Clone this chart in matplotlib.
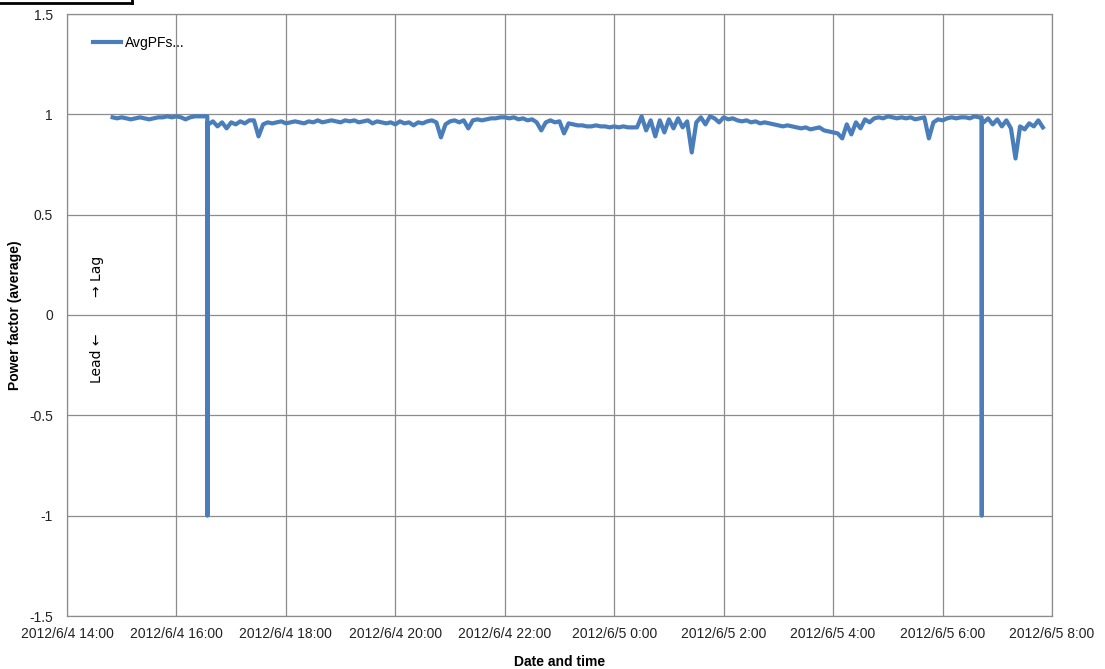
import matplotlib
matplotlib.use("Agg")
import matplotlib.pyplot as plt
import matplotlib.dates as mdates
from matplotlib.lines import Line2D
import pandas as pd

plt.rcParams['font.family'] = ['Liberation Sans', 'DejaVu Sans']

# ---- data: 5-minute average power factor, starting 2012-06-04 14:50 ----
series_start = "2012-06-04 14:50"
step_minutes = 5
pf_values = [
    0.985, 0.98, 0.985, 0.98, 0.975, 0.98, 0.985, 0.98, 0.975, 0.98, 0.985, 0.985,   # 14:50-15:45
    0.99, 0.985, 0.99, 0.985, 0.975, 0.985, 0.99, 0.99, 0.99, 0.95, 0.965, 0.94,     # 15:50-16:45
    0.96, 0.93, 0.96, 0.95, 0.965, 0.955, 0.97, 0.97, 0.89, 0.95, 0.96, 0.955,       # 16:50-17:45
    0.96, 0.965, 0.955, 0.96, 0.965, 0.96, 0.955, 0.965, 0.96, 0.97, 0.96, 0.965,    # 17:50-18:45
    0.97, 0.965, 0.96, 0.97, 0.965, 0.97, 0.96, 0.965, 0.97, 0.955, 0.965, 0.96,     # 18:50-19:45
    0.955, 0.96, 0.95, 0.965, 0.955, 0.96, 0.945, 0.96, 0.955, 0.965, 0.97, 0.96,    # 19:50-20:45
    0.885, 0.95, 0.965, 0.97, 0.96, 0.97, 0.93, 0.97, 0.975, 0.97, 0.975, 0.98,      # 20:50-21:45
    0.98, 0.985, 0.985, 0.98, 0.985, 0.975, 0.98, 0.97, 0.975, 0.96, 0.92, 0.96,     # 21:50-22:45
    0.97, 0.96, 0.965, 0.905, 0.955, 0.95, 0.945, 0.945, 0.94, 0.94, 0.945, 0.94,    # 22:50-23:45
    0.94, 0.935, 0.94, 0.935, 0.94, 0.935, 0.935, 0.935, 0.99, 0.92, 0.97, 0.89,     # 23:50-0:45
    0.97, 0.91, 0.975, 0.93, 0.98, 0.935, 0.965, 0.81, 0.96, 0.985, 0.95, 0.99,      # 0:50-1:45
    0.98, 0.96, 0.985, 0.975, 0.98, 0.97, 0.965, 0.97, 0.96, 0.965, 0.955, 0.96,     # 1:50-2:45
    0.955, 0.95, 0.945, 0.94, 0.945, 0.94, 0.935, 0.93, 0.935, 0.925, 0.93, 0.935,   # 2:50-3:45
    0.92, 0.915, 0.91, 0.905, 0.88, 0.95, 0.9, 0.96, 0.93, 0.975, 0.96, 0.98,        # 3:50-4:45
    0.985, 0.98, 0.99, 0.985, 0.98, 0.985, 0.98, 0.985, 0.975, 0.98, 0.985, 0.88,    # 4:50-5:45
    0.96, 0.975, 0.97, 0.98, 0.985, 0.98, 0.985, 0.985, 0.98, 0.99, 0.985, 0.96,     # 5:50-6:45
    0.98, 0.95, 0.975, 0.94, 0.97, 0.93, 0.78, 0.94, 0.925, 0.955, 0.94, 0.97,       # 6:50-7:45
    0.935,                                                                           # 7:50
]

# momentary reversals to leading power factor
spike_times = ["2012-06-04 16:33:50", "2012-06-04 16:34:00", "2012-06-04 16:34:10",
               "2012-06-05 06:42:50", "2012-06-05 06:43:00", "2012-06-05 06:43:10"]
spike_values = [0.99, -1.0, 0.96, 0.985, -1.0, 0.97]

x_ticks = pd.date_range("2012-06-04 14:00", "2012-06-05 08:00", freq="2h")
y_ticks = [-1.5, -1, -0.5, 0, 0.5, 1, 1.5]
y_tick_labels = ["-1.5", "-1", "-0.5", "0", "0.5", "1", "1.5"]

# ---- build series ----
base_times = pd.date_range(series_start, periods=len(pf_values), freq=f"{step_minutes}min")
df = pd.concat([
    pd.DataFrame({"t": base_times, "pf": pf_values}),
    pd.DataFrame({"t": pd.to_datetime(spike_times), "pf": spike_values}),
]).sort_values("t")

fig = plt.figure(figsize=(11.05, 6.69), dpi=100)
ax = fig.add_axes([67/1105, 1-616/669, (1052-67)/1105, (616-14)/669])

line_color = "#4A7EBB"
ax.plot(df["t"], df["pf"], color=line_color, lw=3.0, solid_joinstyle="round",
        label="AvgPFs...")

ax.set_xlim(x_ticks[0], x_ticks[-1])
ax.set_ylim(-1.5, 1.5)
ax.set_xticks(x_ticks)
ax.xaxis.set_major_formatter(plt.FuncFormatter(
    lambda v, p: (lambda d: f"{d.year}/{d.month}/{d.day} {d.hour}:{d.minute:02d}")(mdates.num2date(v))))
ax.set_yticks(y_ticks)
ax.set_yticklabels(y_tick_labels)

grid_color = "#8C8C8C"
ax.grid(True, color=grid_color, lw=0.9)
ax.set_axisbelow(True)
for s in ax.spines.values():
    s.set_color(grid_color)
    s.set_linewidth(0.9)
ax.tick_params(length=0, labelsize=10, colors="#222222")
ax.tick_params(axis="x", pad=8)
ax.tick_params(axis="y", pad=10)

ax.set_xlabel("Date and time", fontsize=10, fontweight="bold", labelpad=10)
ax.set_ylabel("Power factor (average)", fontsize=10, fontweight="bold")
ax.yaxis.set_label_coords(-0.046, 0.5)

ax.legend(loc="upper left", frameon=False, fontsize=10, handlelength=2.0,
          handletextpad=0.3, bbox_to_anchor=(0.014, 0.985))

# Lag / Lead annotation
ann_x = pd.Timestamp("2012-06-04 14:33")
ax.text(ann_x, 0.09, "\u2192 Lag", rotation=90, ha="center", va="bottom", fontsize=10,
        family=['DejaVu Sans'])
ax.text(ann_x, -0.09, "Lead \u2190", rotation=90, ha="center", va="top", fontsize=10,
        family=['DejaVu Sans'])

# cropped box outline at top-left corner
fig.add_artist(Line2D([0, 132/1105], [1-3/669, 1-3/669], transform=fig.transFigure,
                      color="black", lw=2))
fig.add_artist(Line2D([132/1105, 132/1105], [1-3/669, 1.0], transform=fig.transFigure,
                      color="black", lw=2))

fig.savefig("out.png", dpi=100)
